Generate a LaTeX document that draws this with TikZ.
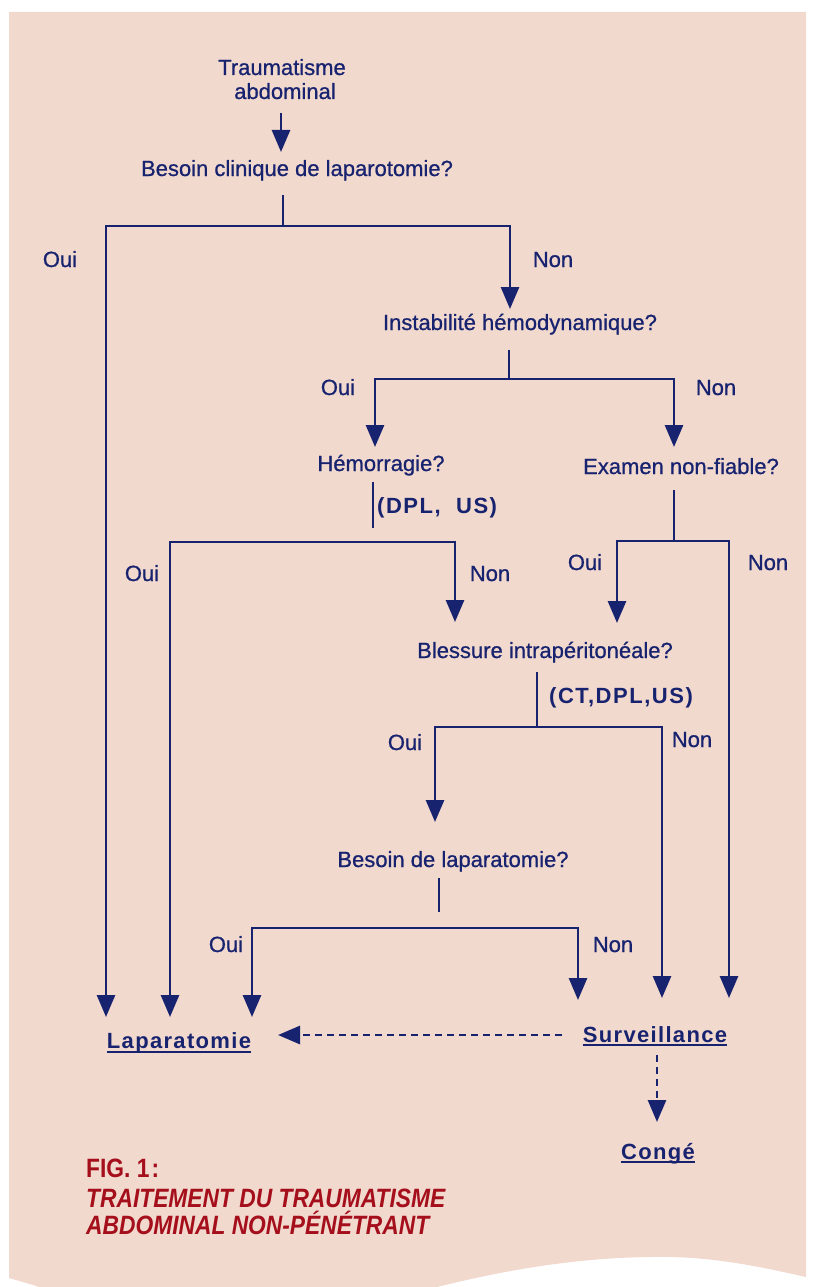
\documentclass[tikz,border=0pt]{standalone}
\usepackage{fontspec}
\setmainfont{Liberation Sans}
\newfontfamily\diafont[FakeBold=0.8]{Liberation Sans}
\newfontfamily\capfont[FakeStretch=0.86]{Liberation Sans}
\usetikzlibrary{arrows.meta}
\definecolor{bgpink}{HTML}{F2D9CE}
\definecolor{navy}{HTML}{18236F}
\definecolor{capred}{HTML}{A50F1C}
\begin{document}
\begin{tikzpicture}[x=1pt,y=-1pt,
  txt/.style={inner sep=0pt, text=navy, font=\fontsize{22}{26}\selectfont\diafont, anchor=base},
  lbl/.style={inner sep=0pt, text=navy, font=\fontsize{22}{26}\selectfont\bfseries\addfontfeature{LetterSpace=7}, anchor=base west},
  head/.style={inner sep=0pt, text=navy, font=\fontsize{22}{26}\selectfont\bfseries\addfontfeature{LetterSpace=6}, anchor=base},
  captxt/.style={inner sep=0pt, text=capred, font=\fontsize{26.5}{30}\selectfont\capfont\bfseries, anchor=base west},
  ln/.style={draw=navy, line width=2.8pt},
  arr/.style={ln, -{Triangle[length=22pt,width=18pt]}},
  darr/.style={arr, dash pattern=on 7pt off 5pt},
  uline/.style={draw=navy, line width=2pt}]
\useasboundingbox (0,0) rectangle (815,1287);
% background
\fill[bgpink] (9,12) -- (806,12) -- (806,1277)
  .. controls (740,1262) and (700,1256) .. (650,1257)
  .. controls (560,1258) and (480,1276) .. (425,1290)
  -- (48,1290) .. controls (30,1284) .. (9,1278) -- cycle;

% texts
\node[txt] (t1a) at (282,75) {Traumatisme};
\node[txt] (t1b) at (285,99) {abdominal};
\node[txt] (q1) at (297,176) {Besoin clinique de laparotomie?};
\node[txt] (q2) at (520,330) {Instabilité hémodynamique?};
\node[txt] (q3) at (381,471) {Hémorragie?};
\node[txt] (q4) at (681,474) {Examen non-fiable?};
\node[txt] (q5) at (545,658) {Blessure intrapéritonéale?};
\node[txt] (q6) at (453,867) {Besoin de laparatomie?};
\node[lbl] (l3) at (377,513) {(DPL,\ \ US)};
\node[lbl] (l5) at (549,703) {(CT,DPL,US)};

\node[txt] (o1) at (60,267) {Oui};
\node[txt] (n1) at (553,267) {Non};
\node[txt] (o2) at (338,395) {Oui};
\node[txt] (n2) at (716,395) {Non};
\node[txt] (o3) at (142,581) {Oui};
\node[txt] (n3) at (490,581) {Non};
\node[txt] (o4) at (585,570) {Oui};
\node[txt] (n4) at (768,570) {Non};
\node[txt] (o5) at (405,750) {Oui};
\node[txt] (n5) at (692,747) {Non};
\node[txt] (o6) at (226,952) {Oui};
\node[txt] (n6) at (613,952) {Non};

\node[head] (lap) at (179,1048) {Laparatomie};
\node[head] (surv) at (655,1042) {Surveillance};
\node[head] (conge) at (658,1159) {Congé};
\draw[uline] ([yshift=-3.5pt]lap.base west) -- ([yshift=-3.5pt]lap.base east);
\draw[uline] ([yshift=-3pt]surv.base west) -- ([yshift=-3pt]surv.base east);
\draw[uline] ([yshift=-2.5pt]conge.base west) -- ([yshift=-2.5pt]conge.base east);

\node[captxt] (fig) at (86,1177) {FIG. 1\kern2pt:};
\node[captxt, font=\fontsize{26.5}{30}\selectfont\capfont\bfseries\itshape] (c1) at (86,1207) {TRAITEMENT DU TRAUMATISME};
\node[captxt, font=\fontsize{26.5}{30}\selectfont\capfont\bfseries\itshape] (c2) at (86,1234) {ABDOMINAL NON-PÉNÉTRANT};

% coordinates
\coordinate (a0) at (281,113); \coordinate (a0t) at (281,152);
\coordinate (s1a) at (283,195); \coordinate (s1b) at (283,226);
\coordinate (h1l) at (106,226); \coordinate (h1r) at (510,226);
\coordinate (tipL1) at (106,1017); \coordinate (tipq2) at (510,309);
\coordinate (s2a) at (509,350); \coordinate (s2b) at (509,379);
\coordinate (h2l) at (375,379); \coordinate (h2r) at (674,379);
\coordinate (tipq3) at (375,447); \coordinate (tipq4) at (674,447);
\coordinate (s3a) at (373,482); \coordinate (s3b) at (373,528);
\coordinate (h3l) at (170,542); \coordinate (h3r) at (455,542);
\coordinate (tipL2) at (170,1017); \coordinate (tipq5a) at (455,622);
\coordinate (s4a) at (674,490); \coordinate (s4b) at (674,541);
\coordinate (h4l) at (617,541); \coordinate (h4r) at (729,541);
\coordinate (tipq5b) at (617,623); \coordinate (tipS3) at (729,998);
\coordinate (s5a) at (537,672); \coordinate (s5b) at (537,727);
\coordinate (h5l) at (435,727); \coordinate (h5r) at (662,727);
\coordinate (tipq6) at (435,822); \coordinate (tipS2) at (662,998);
\coordinate (s6a) at (439,878); \coordinate (s6b) at (439,912);
\coordinate (h6l) at (252,928); \coordinate (h6r) at (578,928);
\coordinate (tipL3) at (252,1017); \coordinate (tipS1) at (578,1000);
\coordinate (dh1) at (562,1035); \coordinate (dh2) at (278,1035);
\coordinate (dv1) at (657,1055); \coordinate (dv2) at (657,1122);

% connectors
\draw[arr] (a0) -- (a0t);
\draw[ln] (s1a) -- (s1b);
\draw[arr] (h1r) -- (h1l) -- (tipL1);
\draw[arr] (h1l) -- (h1r) -- (tipq2);
\draw[ln] (s2a) -- (s2b);
\draw[arr] (h2r) -- (h2l) -- (tipq3);
\draw[arr] (h2l) -- (h2r) -- (tipq4);
\draw[ln] (s3a) -- (s3b);
\draw[arr] (h3r) -- (h3l) -- (tipL2);
\draw[arr] (h3l) -- (h3r) -- (tipq5a);
\draw[ln] (s4a) -- (s4b);
\draw[arr] (h4r) -- (h4l) -- (tipq5b);
\draw[arr] (h4l) -- (h4r) -- (tipS3);
\draw[ln] (s5a) -- (s5b);
\draw[arr] (h5r) -- (h5l) -- (tipq6);
\draw[arr] (h5l) -- (h5r) -- (tipS2);
\draw[ln] (s6a) -- (s6b);
\draw[arr] (h6r) -- (h6l) -- (tipL3);
\draw[arr] (h6l) -- (h6r) -- (tipS1);
\draw[darr] (dh1) -- (dh2);
\draw[darr] (dv1) -- (dv2);
\end{tikzpicture}
\end{document}
